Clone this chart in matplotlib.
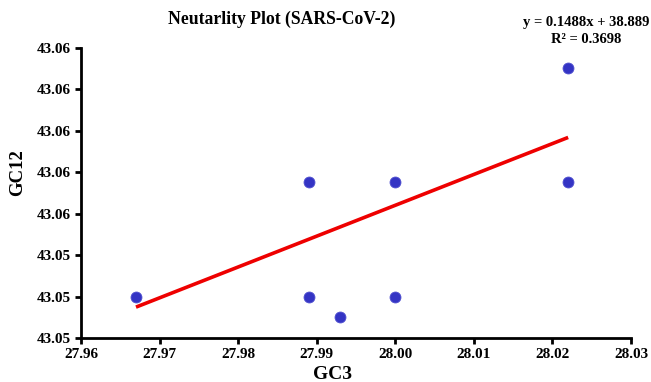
"""Neutrality plot: GC12 against GC3 with a linear trendline."""

import matplotlib

matplotlib.use("Agg")

import matplotlib.pyplot as plt

# values
gc3 = [27.967, 27.989, 27.989, 27.993, 28.000, 28.000, 28.022, 28.022]
gc12 = [43.0510, 43.0565, 43.0510, 43.0500, 43.0565, 43.0510, 43.0565, 43.0620]

trend_slope = 0.1488
trend_intercept = 38.889
trend_x = [27.967, 28.022]

xticks = [27.96, 27.97, 27.98, 27.99, 28.00, 28.01, 28.02, 28.03]
xtick_labels = ["27.96", "27.97", "27.98", "27.99", "28.00", "28.01", "28.02", "28.03"]
yticks = [43.049, 43.051, 43.053, 43.055, 43.057, 43.059, 43.061, 43.063]
ytick_labels = ["43.05", "43.05", "43.05", "43.06", "43.06", "43.06", "43.06", "43.06"]

title = "Neutarlity Plot (SARS-CoV-2)"
equation = "y = 0.1488x + 38.889"
r_squared = "R² = 0.3698"

SERIF = ["Liberation Serif", "DejaVu Serif"]
plt.rcParams["font.family"] = SERIF
plt.rcParams["font.weight"] = "bold"


def main() -> None:
    fig = plt.figure(figsize=(6.51, 3.82), dpi=100)
    ax = fig.add_axes([0.1244, 0.1152, 0.8449, 0.7599])

    trend_y = [trend_slope * x + trend_intercept for x in trend_x]
    ax.plot(trend_x, trend_y, color="#ee0000", linewidth=2.6, solid_capstyle="butt", zorder=2)
    ax.scatter(gc3, gc12, s=62, color="#3434c4", edgecolors="#5050d0", linewidths=0.6, zorder=3)

    ax.set_xlim(xticks[0], xticks[-1])
    ax.set_ylim(yticks[0], yticks[-1])
    ax.set_xticks(xticks)
    ax.set_xticklabels(xtick_labels)
    ax.set_yticks(yticks)
    ax.set_yticklabels(ytick_labels)

    for side in ("top", "right"):
        ax.spines[side].set_visible(False)
    for side in ("left", "bottom"):
        ax.spines[side].set_linewidth(2.0)
        ax.spines[side].set_color("black")
    ax.tick_params(direction="out", length=4, width=2.0, labelsize=11, pad=3)
    for label in ax.get_xticklabels() + ax.get_yticklabels():
        label.set_fontweight("bold")

    ax.set_xlabel("GC3", fontsize=14, fontweight="bold")
    ax.xaxis.set_label_coords(0.458, -0.095)
    ax.set_ylabel("GC12", fontsize=13.5, fontweight="bold")
    ax.yaxis.set_label_coords(-0.100, 0.57)

    fig.text(0.432, 0.95, title, ha="center", va="center", fontsize=12.7, fontweight="bold")
    fig.text(0.90, 0.94, equation, ha="center", va="center", fontsize=10.5, fontweight="bold")
    fig.text(0.90, 0.897, r_squared, ha="center", va="center", fontsize=10.5, fontweight="bold")

    fig.savefig("out.png", dpi=100)
    plt.close(fig)


if __name__ == "__main__":
    main()
